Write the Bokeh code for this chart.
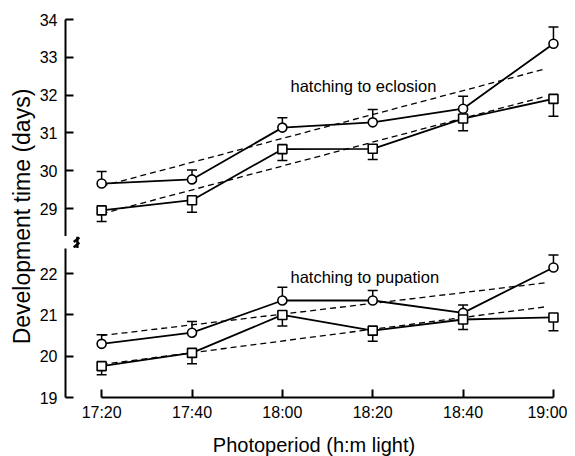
import math
from bokeh.plotting import figure
from bokeh.models import Range1d, FixedTicker, Whisker, TeeHead, ColumnDataSource, Label
from bokeh.layouts import row, column
from bokeh.embed import file_html
from bokeh.resources import INLINE

# ---------------- data ----------------
categories = ["17:20", "17:40", "18:00", "18:20", "18:40", "19:00"]
xpos = list(range(len(categories)))

# hatching to eclosion (upper panel)
ecl_circle = [29.66, 29.77, 31.14, 31.28, 31.64, 33.36]
ecl_circle_hi = [29.98, 30.02, 31.40, 31.62, 31.97, 33.80]
ecl_square = [28.95, 29.22, 30.57, 30.58, 31.38, 31.90]
ecl_square_lo = [28.66, 28.90, 30.27, 30.30, 31.06, 31.44]

# hatching to pupation (lower panel)
pup_circle = [20.30, 20.57, 21.35, 21.35, 21.05, 22.15]
pup_circle_hi = [20.52, 20.84, 21.67, 21.59, 21.24, 22.45]
pup_square = [19.76, 20.08, 21.00, 20.62, 20.89, 20.94]
pup_square_lo = [19.55, 19.82, 20.73, 20.36, 20.65, 20.62]

# regression (dashed) line end points
fit_x = [0.0, 4.92]
ecl_circle_fit = [29.59, 32.70]
ecl_square_fit = [28.86, 31.97]
pup_circle_fit = [20.50, 21.78]
pup_square_fit = [19.80, 21.20]

ecl_ticks = [29, 30, 31, 32, 33, 34]
pup_ticks = [19, 20, 21, 22]

FONT = "Liberation Sans"
FRAME_W = 497
LEFT = 27

x_range = Range1d(-0.40, 5.10)


def style_yaxis(p, ticks):
    ax = p.yaxis[0]
    ax.ticker = FixedTicker(ticks=ticks)
    ax.major_tick_in = 8
    ax.major_tick_out = 0
    ax.minor_tick_line_color = None
    ax.axis_line_width = 2
    ax.major_tick_line_width = 2
    ax.major_label_standoff = 8
    ax.major_label_text_font = FONT
    ax.major_label_text_font_size = "16px"
    ax.major_label_text_color = "black"


def draw_panel(p, yc, yc_hi, ys, ys_lo, fc, fs):
    p.line(fit_x, fc, line_color="black", line_width=1.3, line_dash="6 4")
    p.line(fit_x, fs, line_color="black", line_width=1.3, line_dash="6 4")
    src_c = ColumnDataSource(dict(x=xpos, y=yc, hi=yc_hi))
    src_s = ColumnDataSource(dict(x=xpos, y=ys, lo=ys_lo))
    wc = Whisker(base="x", lower="y", upper="hi", source=src_c, level="underlay",
                 line_width=1.5, line_color="black",
                 upper_head=TeeHead(size=10, line_width=1.5), lower_head=None)
    ws = Whisker(base="x", lower="lo", upper="y", source=src_s, level="underlay",
                 line_width=1.5, line_color="black",
                 lower_head=TeeHead(size=10, line_width=1.5), upper_head=None)
    p.add_layout(wc)
    p.add_layout(ws)
    p.line("x", "y", source=src_c, line_color="black", line_width=1.8)
    p.line("x", "y", source=src_s, line_color="black", line_width=1.8)
    p.scatter("x", "y", source=src_c, marker="circle", size=9,
              fill_color="white", line_color="black", line_width=1.6)
    p.scatter("x", "y", source=src_s, marker="square", size=9,
              fill_color="white", line_color="black", line_width=1.6)


common = dict(toolbar_location=None, output_backend="svg", x_range=x_range,
              frame_width=FRAME_W, min_border_left=LEFT, min_border_right=5,
              outline_line_color=None, background_fill_color="white")

# upper panel
top = figure(frame_height=217, y_range=Range1d(28.26, 34), x_axis_location=None,
             min_border_top=19, min_border_bottom=0, **common)
top.grid.visible = False
style_yaxis(top, ecl_ticks)
draw_panel(top, ecl_circle, ecl_circle_hi, ecl_square, ecl_square_lo,
           ecl_circle_fit, ecl_square_fit)
top.add_layout(Label(x=2.09, y=32.25, text="hatching to eclosion", text_font=FONT,
                     text_font_size="16.5px", text_baseline="middle", text_align="left",
                     text_color="black"))

# axis break
brk = figure(width=60, height=12, x_range=Range1d(0, 60), y_range=Range1d(12, 0),
             toolbar_location=None, output_backend="svg", min_border=0,
             x_axis_location=None, y_axis_location=None, outline_line_color=None)
brk.grid.visible = False
brk.segment(x0=[27.5, 19, 19], y0=[0, 5.5, 11], x1=[27.5, 32, 32], y1=[12, 1, 6],
            line_color="black", line_width=2.4)

# lower panel
bot = figure(frame_height=149, y_range=Range1d(19, 22.61), min_border_top=0,
             min_border_bottom=0, **common)
bot.grid.visible = False
style_yaxis(bot, pup_ticks)
xa = bot.xaxis[0]
xa.ticker = FixedTicker(ticks=xpos)
xa.major_label_overrides = {i: c for i, c in zip(xpos, categories)}
xa.bounds = (xpos[0], xpos[-1])
xa.major_tick_in = 8
xa.major_tick_out = 0
xa.minor_tick_line_color = None
xa.axis_line_width = 2
xa.major_tick_line_width = 2
xa.major_label_standoff = 6
xa.major_label_text_font = FONT
xa.major_label_text_font_size = "16px"
xa.major_label_text_color = "black"
xa.axis_label = "Photoperiod (h:m light)"
xa.axis_label_text_font = FONT
xa.axis_label_text_font_size = "20px"
xa.axis_label_text_font_style = "normal"
xa.axis_label_text_color = "black"
xa.axis_label_standoff = 10
draw_panel(bot, pup_circle, pup_circle_hi, pup_square, pup_square_lo,
           pup_circle_fit, pup_square_fit)
bot.add_layout(Label(x=2.09, y=21.93, text="hatching to pupation", text_font=FONT,
                     text_font_size="16.5px", text_baseline="middle", text_align="left",
                     text_color="black"))

# y-axis title
lab = figure(width=36, height=440, x_range=Range1d(0, 36), y_range=Range1d(440, 0),
             toolbar_location=None, output_backend="svg", min_border=0,
             x_axis_location=None, y_axis_location=None, outline_line_color=None)
lab.grid.visible = False
lab.add_layout(Label(x=21, y=216, text="Development time (days)", angle=math.pi / 2,
                     text_align="center", text_baseline="middle", text_font=FONT,
                     text_font_size="23px", text_color="black"))

layout = row(lab, column(top, brk, bot))

with open("out.html", "w") as f:
    f.write(file_html(layout, INLINE))
